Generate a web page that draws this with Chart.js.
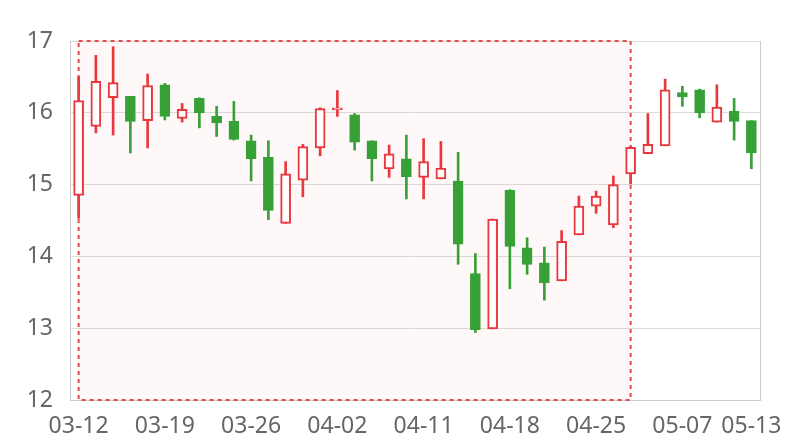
<!DOCTYPE html>
<html>
<head>
<meta charset="utf-8">
<script src="https://cdn.jsdelivr.net/npm/chart.js@4"></script>
<style>
  html, body { margin: 0; padding: 0; background: #fff; }
  #wrap { width: 800px; height: 440px; }
</style>
</head>
<body>
<div id="wrap"><canvas id="c"></canvas></div>
<script>
// dates of the trading days (categories)
const dates = ['03-12','03-13','03-14','03-15','03-18','03-19','03-20','03-21','03-22','03-25',
               '03-26','03-27','03-28','03-29','03-30','04-02','04-03','04-04','04-09','04-10',
               '04-11','04-12','04-13','04-16','04-17','04-18','04-19','04-20','04-23','04-24',
               '04-25','04-26','04-27','05-03','05-04','05-07','05-08','05-09','05-10','05-13'];
const openVals  = [14.85,15.81,16.21,16.23,15.89,16.39,15.92,16.20,15.95,15.88,
                   15.61,15.38,14.46,15.06,15.51,16.04,15.97,15.61,15.22,15.36,
                   15.10,15.08,15.05,13.76,12.99,14.92,14.12,13.91,13.66,14.30,
                   14.70,14.44,15.15,15.43,15.54,16.28,16.32,15.87,16.02,15.89];
const closeVals = [16.17,16.44,16.42,15.88,16.38,15.95,16.05,16.00,15.86,15.63,
                   15.36,14.64,15.15,15.53,16.06,16.06,15.59,15.36,15.43,15.11,
                   15.32,15.23,14.17,12.98,14.52,14.14,13.89,13.63,14.21,14.70,
                   14.84,15.00,15.52,15.56,16.32,16.22,16.00,16.08,15.88,15.44];
const lowVals   = [14.53,15.72,15.69,15.44,15.51,15.90,15.87,15.79,15.67,15.62,
                   15.05,14.51,14.46,14.83,15.40,15.95,15.48,15.05,15.10,14.80,
                   14.80,15.08,13.89,12.94,12.99,13.55,13.75,13.39,13.66,14.30,
                   14.60,14.40,15.01,15.43,15.54,16.09,15.93,15.87,15.62,15.22];
const highVals  = [16.50,16.80,16.92,16.23,16.54,16.41,16.13,16.21,16.09,16.16,
                   15.69,15.61,15.32,15.56,16.07,16.31,15.99,15.61,15.55,15.69,
                   15.64,15.60,15.45,14.04,14.52,14.93,14.26,14.13,14.36,14.84,
                   14.91,15.12,15.53,15.99,16.47,16.37,16.33,16.39,16.20,15.89];
// highlighted range
const markFrom = '03-12';
const markTo = '04-27';
const yTicks = [12, 13, 14, 15, 16, 17];
const labelIdx = [0, 5, 10, 15, 20, 25, 30, 35, 39];

const UP = '#e8383d';
const DOWN = '#37a037';
const isUp = openVals.map((o, i) => closeVals[i] >= o);

const markAreaPlugin = {
  id: 'markArea',
  beforeDatasetsDraw(chart) {
    const {ctx, chartArea} = chart;
    const xs = chart.scales.x, ys = chart.scales.y;
    const x1 = xs.getPixelForValue(dates.indexOf(markFrom));
    const x2 = xs.getPixelForValue(dates.indexOf(markTo));
    const y1 = ys.getPixelForValue(yTicks[yTicks.length - 1]);
    const y2 = ys.getPixelForValue(yTicks[0]);
    ctx.save();
    ctx.fillStyle = 'rgba(255, 90, 90, 0.045)';
    ctx.fillRect(x1, y1, x2 - x1, y2 - y1);
    ctx.setLineDash([4, 4]);
    ctx.lineWidth = 2;
    ctx.strokeStyle = '#e84848';
    ctx.strokeRect(x1, y1, x2 - x1, y2 - y1);
    ctx.restore();
    // right border of grid
    ctx.save();
    ctx.strokeStyle = '#cccccc';
    ctx.lineWidth = 1;
    ctx.beginPath();
    ctx.moveTo(Math.round(chartArea.right) + 0.5, chartArea.top);
    ctx.lineTo(Math.round(chartArea.right) + 0.5, chartArea.bottom);
    ctx.stroke();
    ctx.restore();
  }
};

new Chart(document.getElementById('c'), {
  type: 'bar',
  data: {
    labels: dates,
    datasets: [
      {
        label: 'body',
        data: openVals.map((o, i) => [o, closeVals[i]]),
        backgroundColor: isUp.map(u => u ? '#ffffff' : DOWN),
        borderColor: isUp.map(u => u ? UP : DOWN),
        borderWidth: 2,
        borderSkipped: false,
        grouped: false,
        barThickness: 10,
        minBarLength: 2,
        order: 0
      },
      {
        label: 'wick',
        data: lowVals.map((l, i) => [l, highVals[i]]),
        backgroundColor: isUp.map(u => u ? UP : DOWN),
        borderWidth: 0,
        grouped: false,
        barThickness: 2,
        order: 1
      }
    ]
  },
  options: {
    responsive: true,
    maintainAspectRatio: false,
    animation: false,
    layout: { padding: { top: 41, right: 40, left: 0, bottom: 0 } },
    plugins: {
      legend: { display: false },
      tooltip: { enabled: false }
    },
    scales: {
      x: {
        grid: { display: false, drawTicks: false },
        border: { color: '#cccccc' },
        ticks: {
          autoSkip: false,
          maxRotation: 0,
          padding: 13,
          color: '#666666',
          font: { family: 'Noto Sans', size: 23 },
          callback: (v, i) => labelIdx.includes(i) ? dates[i] : ''
        },
        afterFit: s => { s.height = 40; }
      },
      y: {
        min: yTicks[0],
        max: yTicks[yTicks.length - 1],
        grid: { color: '#dddddd', drawTicks: false },
        border: { color: '#cccccc' },
        ticks: {
          stepSize: 1,
          padding: 17,
          color: '#666666',
          font: { family: 'Noto Sans', size: 23 }
        },
        afterFit: s => { s.width = 70; }
      }
    }
  },
  plugins: [markAreaPlugin]
});
</script>
</body>
</html>
